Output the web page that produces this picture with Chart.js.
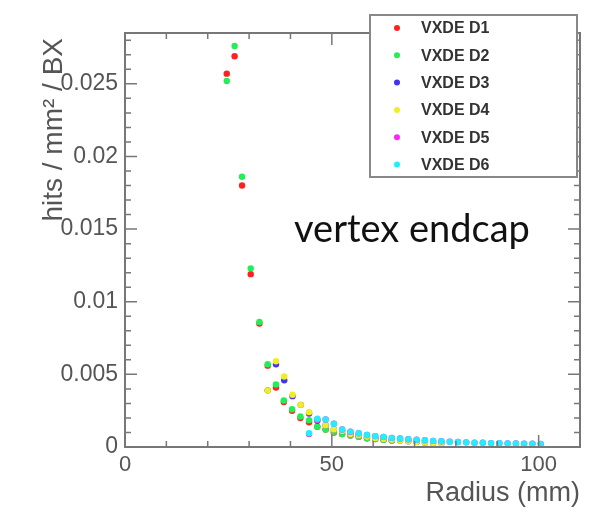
<!DOCTYPE html>
<html>
<head>
<meta charset="utf-8">
<script src="https://cdn.jsdelivr.net/npm/chart.js@4.4.1/dist/chart.umd.min.js"></script>
<style>
  html, body { margin: 0; padding: 0; background: #fff; }
  #wrap { width: 603px; height: 512px; }
</style>
</head>
<body>
<div id="wrap"><canvas id="hitChart" width="603" height="512"></canvas></div>
<script>
// radius (mm) of each bin, per pair of disks
const radiusD12 = [24.6, 26.5, 28.3, 30.4, 32.5, 34.5, 36.5, 38.4, 40.4, 42.4, 44.5, 46.5, 48.5, 50.5, 52.5, 54.5, 56.5, 58.5, 60.5, 62.5, 64.5];
const radiusD34 = [34.5, 36.5, 38.5, 40.5, 42.5, 44.5, 46.5, 48.5, 50.5, 52.5, 54.5, 56.5, 58.5, 60.5, 62.5, 64.5, 66.5, 68.5, 70.5, 72.5, 74.5, 76.5];
const radiusD56 = [44.5, 46.5, 48.5, 50.5, 52.5, 54.5, 56.5, 58.5, 60.5, 62.5, 64.5, 66.5, 68.5, 70.5, 72.5, 74.5, 76.5, 78.5, 80.5, 82.5, 84.5, 86.5, 88.5, 90.5, 92.5, 94.5, 96.5, 98.5, 100.5];

// hits / mm^2 / BX
const hitsD1 = [0.0257, 0.0269, 0.0180, 0.0119, 0.0085, 0.0056, 0.0041, 0.0031, 0.0025, 0.0020, 0.0017, 0.0014, 0.0012, 0.0010, 0.0009, 0.0008, 0.0007, 0.0006, 0.00055, 0.0005, 0.00045];
const hitsD2 = [0.0252, 0.0276, 0.0186, 0.0123, 0.0086, 0.0057, 0.0043, 0.0032, 0.0026, 0.0021, 0.00185, 0.0014, 0.0012, 0.00105, 0.0009, 0.0008, 0.0007, 0.0006, 0.00055, 0.0005, 0.00045];
const hitsD3 = [0.0039, 0.0057, 0.0046, 0.0035, 0.0029, 0.0023, 0.0018, 0.0015, 0.0012, 0.0011, 0.0009, 0.0008, 0.0007, 0.0006, 0.00055, 0.0005, 0.00045, 0.0004, 0.00035, 0.0003, 0.00028, 0.00025];
const hitsD4 = [0.0039, 0.0059, 0.00485, 0.0036, 0.0029, 0.0024, 0.0019, 0.0015, 0.0012, 0.0011, 0.0009, 0.0008, 0.0007, 0.0006, 0.00055, 0.0005, 0.00045, 0.0004, 0.00035, 0.0003, 0.00028, 0.00025];
const hitsD5 = [0.0009, 0.0019, 0.0019, 0.0016, 0.0012, 0.00105, 0.00095, 0.00083, 0.00075, 0.0007, 0.00063, 0.00058, 0.00053, 0.0005, 0.00046, 0.00042, 0.0004, 0.00037, 0.00034, 0.00032, 0.0003, 0.00029, 0.00027, 0.00026, 0.00025, 0.00024, 0.00023, 0.00022, 0.00021];
const hitsD6 = [0.00095, 0.00195, 0.0019, 0.0016, 0.0012, 0.00106, 0.00095, 0.00083, 0.00075, 0.0007, 0.00063, 0.00058, 0.00053, 0.0005, 0.00046, 0.00042, 0.0004, 0.00037, 0.00034, 0.00032, 0.0003, 0.00029, 0.00027, 0.00026, 0.00025, 0.00024, 0.00023, 0.00022, 0.00021];

const diskNames = ["VXDE D1", "VXDE D2", "VXDE D3", "VXDE D4", "VXDE D5", "VXDE D6"];
const diskColors = ["#ff2020", "#22ee55", "#4433ee", "#eeee22", "#ff22ff", "#22eeff"];

const yTicks = [0, 0.005, 0.01, 0.015, 0.02, 0.025];
const xTicks = [0, 50, 100];

function toPoints(xs, ys) {
  return xs.map((x, i) => ({ x: x, y: ys[i] }));
}

const series = [
  toPoints(radiusD12, hitsD1),
  toPoints(radiusD12, hitsD2),
  toPoints(radiusD34, hitsD3),
  toPoints(radiusD34, hitsD4),
  toPoints(radiusD56, hitsD5),
  toPoints(radiusD56, hitsD6),
];

// ROOT-like frame, inward ticks, titles and legend box
const rootFrame = {
  id: "rootFrame",
  afterDraw(chart) {
    const ctx = chart.ctx;
    const a = chart.chartArea;
    const xs = chart.scales.x, ys = chart.scales.y;
    ctx.save();
    ctx.strokeStyle = "#777";
    ctx.lineWidth = 2;
    ctx.strokeRect(a.left, a.top, a.right - a.left, a.bottom - a.top);

    ctx.lineWidth = 1.5;
    ctx.beginPath();
    for (let i = 0; i <= 28; i++) {
      const y = ys.getPixelForValue(i * 0.001);
      const len = i % 5 === 0 ? 12 : 6;
      ctx.moveTo(a.left, y); ctx.lineTo(a.left + len, y);
      ctx.moveTo(a.right, y); ctx.lineTo(a.right - len, y);
    }
    for (let v = 0; v <= 110; v += 10) {
      const x = xs.getPixelForValue(v);
      const len = v % 50 === 0 ? 12 : 6;
      ctx.moveTo(x, a.bottom); ctx.lineTo(x, a.bottom - len);
      ctx.moveTo(x, a.top); ctx.lineTo(x, a.top + len);
    }
    ctx.stroke();

    // axis titles
    ctx.fillStyle = "#555";
    ctx.font = '27px "Liberation Sans", Arial, sans-serif';
    ctx.textAlign = "right";
    ctx.textBaseline = "alphabetic";
    ctx.fillText("Radius (mm)", a.right, 501);
    ctx.save();
    ctx.translate(62, 38);
    ctx.rotate(-Math.PI / 2);
    ctx.font = '28px "Liberation Sans", Arial, sans-serif';
    ctx.fillText("hits / mm\u00b2 / BX", 0, 0);
    ctx.restore();

    // annotation
    ctx.fillStyle = "#111";
    ctx.font = '38px Lato, "Open Sans", sans-serif';
    ctx.textAlign = "left";
    ctx.fillText("vertex endcap", 294, 242);

    // legend
    ctx.fillStyle = "#fff";
    ctx.fillRect(370, 15, 207, 162);
    ctx.strokeStyle = "#888";
    ctx.lineWidth = 2;
    ctx.strokeRect(370, 15, 207, 162);
    ctx.font = 'bold 16px "Liberation Sans", Arial, sans-serif';
    ctx.textBaseline = "middle";
    chart.data.datasets.forEach((ds, i) => {
      const y = 28 + i * 27.3;
      ctx.beginPath();
      ctx.fillStyle = ds.backgroundColor;
      ctx.arc(397, y, 3, 0, Math.PI * 2);
      ctx.fill();
      ctx.fillStyle = "#333";
      ctx.fillText(ds.label, 421, y + 1);
    });
    ctx.restore();
  },
};

const ctx = document.getElementById("hitChart").getContext("2d");
const hitChart = new Chart(ctx, {
  type: "scatter",
  data: {
    datasets: series.map((pts, i) => ({
      label: diskNames[i],
      data: pts,
      backgroundColor: diskColors[i],
      borderColor: diskColors[i],
      pointRadius: 3.2,
      borderWidth: 0,
      order: 6 - i,
    })),
  },
  options: {
    responsive: false,
    animation: false,
    layout: { padding: { top: 33, right: 23, left: 0, bottom: 0 } },
    plugins: { legend: { display: false }, tooltip: { enabled: false } },
    scales: {
      x: {
        type: "linear",
        min: 0,
        max: 110,
        afterFit(s) { s.height = 65; },
        afterBuildTicks(s) { s.ticks = xTicks.map((v) => ({ value: v })); },
        grid: { display: false, drawTicks: false },
        border: { display: false },
        ticks: {
          padding: 5,
          color: "#555",
          font: { family: '"Liberation Sans", Arial, sans-serif', size: 22 },
          maxRotation: 0,
        },
      },
      y: {
        type: "linear",
        min: 0,
        max: 0.0285,
        afterFit(s) { s.width = 125; },
        afterBuildTicks(s) { s.ticks = yTicks.map((v) => ({ value: v })); },
        grid: { display: false, drawTicks: false },
        border: { display: false },
        ticks: {
          padding: 7,
          color: "#555",
          font: { family: '"Liberation Sans", Arial, sans-serif', size: 23 },
          callback: (v) => (v === 0 ? "0" : String(+v.toFixed(3))),
        },
      },
    },
  },
  plugins: [rootFrame],
});
</script>
</body>
</html>
